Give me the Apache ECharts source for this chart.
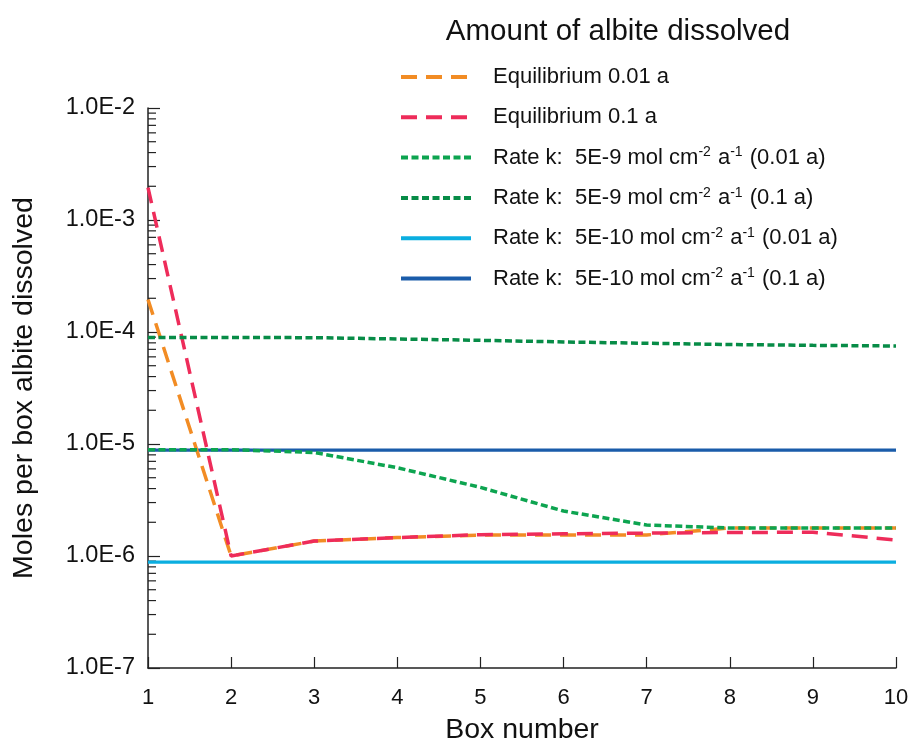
<!DOCTYPE html>
<html>
<head>
<meta charset="utf-8">
<script src="https://cdn.jsdelivr.net/npm/echarts@6/dist/echarts.min.js"></script>
<style>
html,body{margin:0;padding:0;background:#fff;}
#chart{width:910px;height:742px;}
</style>
</head>
<body>
<div id="chart"></div>
<script>
// ---- data ----
var boxes = [1, 2, 3, 4, 5, 6, 7, 8, 9, 10];
var eq001 = [1.95e-4, 1.0e-6, 1.36e-6, 1.46e-6, 1.54e-6, 1.54e-6, 1.54e-6, 1.78e-6, 1.78e-6, 1.78e-6];
var eq01 = [1.95e-3, 1.0e-6, 1.36e-6, 1.46e-6, 1.55e-6, 1.58e-6, 1.6e-6, 1.62e-6, 1.63e-6, 1.39e-6];
var rate9_001 = [8.9e-6, 8.9e-6, 8.4e-6, 6.14e-6, 4.1e-6, 2.52e-6, 1.89e-6, 1.78e-6, 1.78e-6, 1.78e-6];
var rate9_01 = [8.95e-5, 8.93e-5, 8.9e-5, 8.66e-5, 8.43e-5, 8.15e-5, 7.93e-5, 7.73e-5, 7.6e-5, 7.5e-5];
var rate10_001 = [8.8e-7, 8.8e-7, 8.8e-7, 8.8e-7, 8.8e-7, 8.8e-7, 8.8e-7, 8.8e-7, 8.8e-7, 8.8e-7];
var rate10_01 = [8.8e-6, 8.8e-6, 8.8e-6, 8.8e-6, 8.8e-6, 8.8e-6, 8.8e-6, 8.8e-6, 8.8e-6, 8.8e-6];
var seriesNames = [
  'Equilibrium 0.01 a',
  'Equilibrium 0.1 a',
  'Rate k:  5E-9 mol cm{sup|-2} a{sup|-1} (0.01 a)',
  'Rate k:  5E-9 mol cm{sup|-2} a{sup|-1} (0.1 a)',
  'Rate k:  5E-10 mol cm{sup|-2} a{sup|-1} (0.01 a)',
  'Rate k:  5E-10 mol cm{sup|-2} a{sup|-1} (0.1 a)'
];
var yExtent = [1e-7, 1e-2];
var xExtent = [1, 10];

function pairs(vals) { return boxes.map(function (b, i) { return [b, vals[i]]; }); }

var FONT = '"Liberation Sans", Arial, Helvetica, sans-serif';
var chart = echarts.init(document.getElementById('chart'));

function mk(name, vals, color, type, width, z) {
  return {
    name: name, type: 'line', data: pairs(vals), symbol: 'none', z: z,
    lineStyle: { color: color, type: type, width: width, cap: 'butt' },
    itemStyle: { color: color, opacity: 0 },
    emphasis: { disabled: true }
  };
}

var option = {
  animation: false,
  backgroundColor: '#fff',
  title: {
    text: 'Amount of albite dissolved',
    left: 613, textAlign: 'center', top: 12,
    textStyle: { fontFamily: FONT, fontSize: 29.5, fontWeight: 'normal', color: '#111' }
  },
  legend: {
    orient: 'vertical', left: 399, top: 65, padding: 0,
    itemWidth: 70, itemHeight: 14, itemGap: 16.3,
    data: seriesNames,
    formatter: function (n) { return n; },
    textStyle: {
      fontFamily: FONT, fontSize: 22, color: '#111', lineHeight: 24,
      padding: [0, 0, 0, 17],
      rich: { sup: { fontFamily: FONT, fontSize: 14, color: '#111', lineHeight: 14, verticalAlign: 'top', padding: [0, 1, 0, 0] } }
    },
    itemStyle: { opacity: 0 },
    lineStyle: { width: 4 }
  },
  grid: { left: 148, right: 14, top: 108, bottom: 74, containLabel: false, outerBoundsMode: 'none' },
  xAxis: {
    type: 'value', min: xExtent[0], max: xExtent[1], interval: 1,
    name: 'Box number', nameLocation: 'middle', nameGap: 48,
    nameTextStyle: { fontFamily: FONT, fontSize: 28.5, color: '#111' },
    axisLine: { lineStyle: { color: '#222', width: 1.5 } },
    axisTick: { inside: true, length: 11, lineStyle: { color: '#222', width: 1.2 } },
    axisLabel: { fontFamily: FONT, fontSize: 22, color: '#111', margin: 19 },
    splitLine: { show: false }
  },
  yAxis: {
    type: 'log', logBase: 10, min: yExtent[0], max: yExtent[1],
    name: 'Moles per box albite dissolved', nameLocation: 'middle', nameGap: 109,
    nameTextStyle: { fontFamily: FONT, fontSize: 28.5, color: '#111' },
    axisLine: { show: true, lineStyle: { color: '#222', width: 1.5 } },
    axisTick: { show: true, inside: true, length: 12, lineStyle: { color: '#222', width: 1.2 } },
    axisLabel: {
      fontFamily: FONT, fontSize: 23.5, color: '#111', margin: 13,
      formatter: function (v) { return '1.0E' + Math.round(Math.log10(v)); }
    },
    splitLine: { show: false }
  },
  series: [
    mk(seriesNames[0], eq001, '#F28C24', [16, 9], 3.5, 3),
    mk(seriesNames[1], eq01, '#EE2C5A', [16, 9], 3.5, 4),
    mk(seriesNames[2], rate9_001, '#0DA450', [7, 3.5], 3.5, 5),
    mk(seriesNames[3], rate9_01, '#078C47', [7, 3.5], 3.5, 5),
    mk(seriesNames[4], rate10_001, '#0BAEE0', 'solid', 3.2, 2),
    mk(seriesNames[5], rate10_01, '#1A5CAA', 'solid', 3.2, 2)
  ]
};
chart.setOption(option);

// minor ticks at 2..9 x each decade (positions from the axis scale)
var minorTicks = [];
var x0 = chart.convertToPixel({ gridIndex: 0 }, [xExtent[0], yExtent[0]])[0];
var lo = Math.round(Math.log10(yExtent[0])), hi = Math.round(Math.log10(yExtent[1]));
for (var e = lo; e < hi; e++) {
  for (var m = 2; m <= 9; m++) {
    var v = m * Math.pow(10, e);
    var py = chart.convertToPixel({ gridIndex: 0 }, [xExtent[0], v])[1];
    minorTicks.push({
      type: 'line', silent: true,
      shape: { x1: x0, y1: py, x2: x0 + 8, y2: py },
      style: { stroke: '#222', lineWidth: 1.2 }
    });
  }
}
chart.setOption({ graphic: minorTicks });
</script>
</body>
</html>
